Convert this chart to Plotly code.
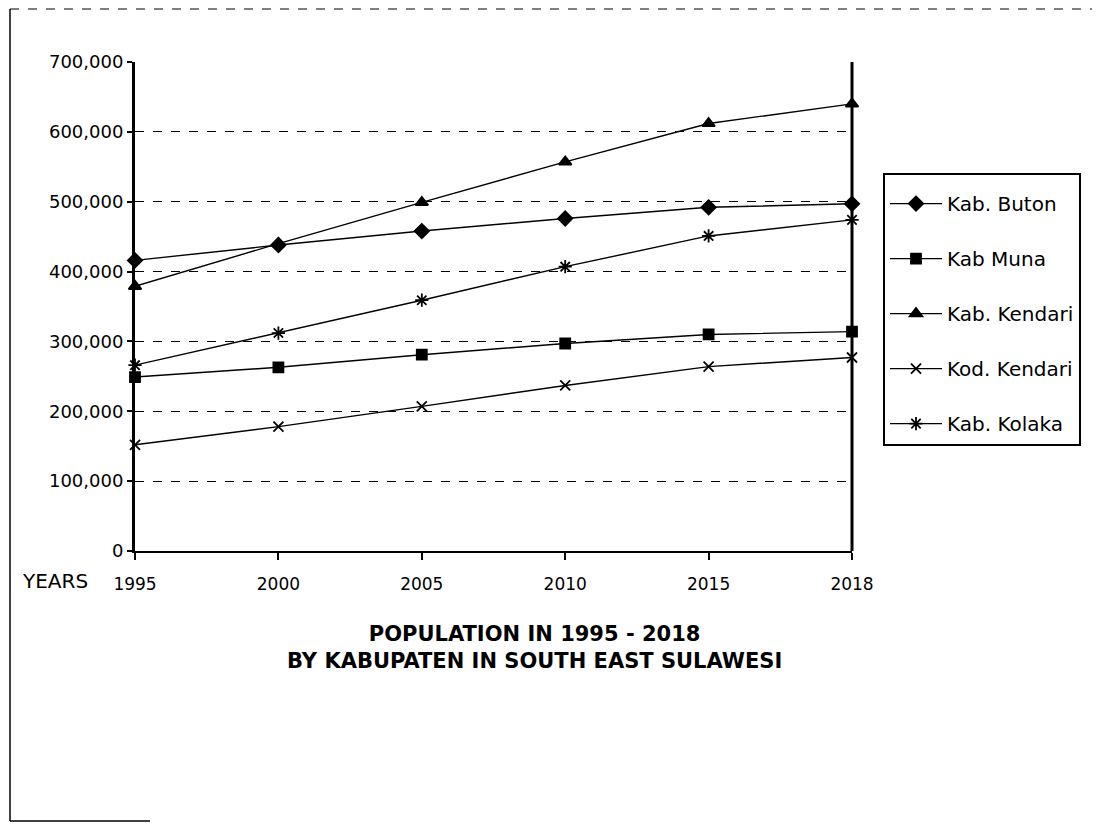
import plotly.graph_objects as go

years = ["1995", "2000", "2005", "2010", "2015", "2018"]
buton = [416000, 438000, 458000, 476000, 492000, 497000]
muna = [249000, 263000, 281000, 297000, 310000, 314000]
kab_kendari = [379000, 440000, 499000, 557000, 612000, 640000]
kod_kendari = [152000, 178000, 207000, 237000, 264000, 277000]
kolaka = [266000, 312000, 359000, 407000, 451000, 474000]

series = [
    ("Kab. Buton", buton, "diamond", 11),
    ("Kab Muna", muna, "square", 10),
    ("Kab. Kendari", kab_kendari, "triangle-up", 11),
    ("Kod. Kendari", kod_kendari, "x-thin-open", 10),
    ("Kab. Kolaka", kolaka, "asterisk-open", 11),
]

FONT = "DejaVu Sans"
OFF = 8  # page body margin
W, H = 1100, 825
# plot area in screen pixels
SL, SR, ST, SB = 133, 852, 62, 551
L, R, T, B = SL - OFF + 2, SR - OFF, ST - OFF, SB - OFF
PW, PH = R - L, B - T


def px(x):
    # screen x -> paper fraction
    return (x - OFF - L) / PW


def py(y):
    return (B - (y - OFF)) / PH


xi = list(range(len(years)))

fig = go.Figure()
for name, vals, sym, size in series:
    fig.add_trace(go.Scatter(
        x=xi, y=vals, name=name, mode="lines+markers",
        legendgroup=name,
        line=dict(color="black", width=1.4),
        marker=dict(symbol=sym, size=size, color="black",
                    line=dict(color="black", width=1.8)),
        cliponaxis=False,
    ))

shapes = [
    dict(type="line", xref="paper", yref="paper", x0=1, x1=1, y0=0, y1=1,
         line=dict(color="black", width=3)),
    dict(type="line", xref="paper", yref="paper", x0=px(10), x1=px(10),
         y0=py(9), y1=py(821), line=dict(color="black", width=1.5)),
    dict(type="line", xref="paper", yref="paper", x0=px(10), x1=px(150),
         y0=py(821), y1=py(821), line=dict(color="black", width=1.5)),
    dict(type="line", xref="paper", yref="paper", x0=px(10), x1=px(1100),
         y0=py(9), y1=py(9), line=dict(color="black", width=1, dash="dash")),
]

annotations = [
    dict(text="YEARS", xref="paper", yref="paper", x=px(55), y=py(581),
         showarrow=False, xanchor="center", yanchor="middle",
         font=dict(family=FONT, size=20, color="black")),
    dict(text="<b>POPULATION IN 1995 - 2018<br>BY KABUPATEN IN SOUTH EAST SULAWESI</b>",
         xref="paper", yref="paper", x=px(534), y=py(647),
         showarrow=False, xanchor="center", yanchor="middle",
         font=dict(family=FONT, size=21, color="black")),
]

fig.update_layout(
    width=W, height=H,
    margin=dict(l=L, r=W - R, t=T, b=H - B),
    paper_bgcolor="white", plot_bgcolor="white",
    font=dict(family=FONT, size=17, color="black"),
    showlegend=True,
    legend=dict(
        x=px(883), y=py(173), xanchor="left", yanchor="top",
        bordercolor="black", borderwidth=2, bgcolor="white",
        font=dict(family=FONT, size=20, color="black"),
        title=dict(text=" ", font=dict(size=7)),
        tracegroupgap=26, itemwidth=52,
    ),
    xaxis=dict(
        range=[0, 5], tickmode="array", tickvals=xi, ticktext=years,
        showgrid=False, zeroline=False,
        showline=True, linecolor="black", linewidth=1.5,
        ticks="outside", ticklen=7, tickwidth=2, tickcolor="black",
        ticklabelstandoff=10,
        tickfont=dict(family=FONT, size=17, color="black"),
    ),
    yaxis=dict(
        range=[0, 700000], dtick=100000, tickformat=",",
        showgrid=True, gridcolor="black", gridwidth=1, griddash="dash",
        zeroline=False,
        showline=True, linecolor="black", linewidth=3,
        ticks="outside", ticklen=5, tickwidth=1.5, tickcolor="black",
        tickfont=dict(family=FONT, size=18, color="black"),
    ),
    shapes=shapes,
    annotations=annotations,
)

fig.write_html("out.html")
